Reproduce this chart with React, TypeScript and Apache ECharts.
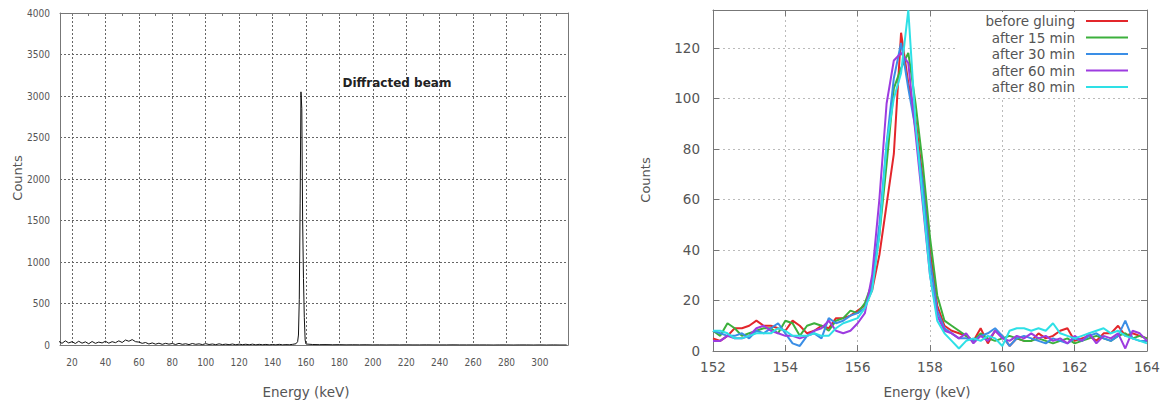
import React, { useEffect, useRef } from "react";
import * as echarts from "echarts";

// ---------- Left panel: full spectrum ----------
const spectrumEnergy = [
  12, 14, 16, 18, 20, 22, 24, 26, 28, 30, 32, 34, 36, 38, 40, 42, 44, 46, 48, 50, 52, 54, 56, 58, 60,
  62, 64, 66, 68, 70, 72, 74, 76, 78, 80, 82, 84, 86, 88, 90, 92, 94, 96, 98, 100, 102, 104, 106, 108,
  110, 112, 114, 116, 118, 120, 122, 124, 126, 128, 130, 132, 134, 136, 138, 140, 142, 144, 146, 148,
  150, 152, 154,
  155, 155.5, 156, 156.5, 157, 157.5, 158, 158.5, 159, 159.5, 160,
  164, 168, 172, 176, 180, 184, 188, 192, 196, 200, 204, 208, 212, 216, 220, 224, 228, 232, 236, 240,
  244, 248, 252, 256, 260, 264, 268, 272, 276, 280, 284, 288, 292, 296, 300, 304, 308, 312, 316,
];
const spectrumCounts = [
  45, 20, 50, 25, 40, 18, 45, 22, 38, 15, 42, 20, 35, 25, 45, 22, 40, 28, 50, 30, 60, 45, 65, 40, 35,
  20, 30, 12, 25, 10, 22, 8, 20, 10, 18, 6, 20, 8, 15, 5, 18, 8, 14, 5, 16, 6, 12, 4, 14,
  5, 10, 4, 12, 3, 10, 4, 9, 3, 10, 2, 8, 3, 7, 2, 6, 2, 8, 2, 5,
  3, 8, 15,
  40, 120, 550, 1700, 3050, 2850, 1500, 800, 330, 60, 12,
  6, 4, 5, 3, 4, 2, 3, 2, 3, 1, 2, 1, 2, 1, 2, 1, 1, 2, 1, 1,
  1, 2, 1, 1, 1, 1, 1, 0, 1, 1, 0, 1, 1, 0, 1, 0, 1, 0, 0,
];
const leftXTicks = [20, 40, 60, 80, 100, 120, 140, 160, 180, 200, 220, 240, 260, 280, 300];
const leftTopTicks = [20, 30, 40, 50, 60, 70, 80, 90, 100, 110, 120, 130, 140, 150, 160, 170, 180, 190,
  200, 210, 220, 230, 240, 250, 260, 270, 280, 290, 300, 310];

// ---------- Right panel: zoom on the diffracted peak ----------
const zoomEnergy = [
  152, 152.2, 152.4, 152.6, 152.8, 153, 153.2, 153.4, 153.6, 153.8,
  154, 154.2, 154.4, 154.6, 154.8, 155, 155.2, 155.4, 155.6, 155.8,
  156, 156.2, 156.4, 156.6, 156.8, 157, 157.2, 157.4, 157.6, 157.8,
  158, 158.2, 158.4, 158.6, 158.8, 159, 159.2, 159.4, 159.6, 159.8,
  160, 160.2, 160.4, 160.6, 160.8, 161, 161.2, 161.4, 161.6, 161.8,
  162, 162.2, 162.4, 162.6, 162.8, 163, 163.2, 163.4, 163.6, 163.8, 164,
];
const seriesNames = ["before gluing", "after 15 min", "after 30 min", "after 60 min", "after 80 min"];
const seriesColors = ["#e3262b", "#3cb03c", "#3a8ee6", "#9d3ce0", "#2ee0e6"];

const beforeGluing = [
  5, 4, 6, 9, 9, 10, 12, 10, 10, 9, 8, 12, 10, 7, 8, 10, 9, 13, 13, 14,
  16, 18, 24, 38, 58, 78, 126, 106, 92, 68, 40, 18, 10, 8, 7,
  6, 4, 9, 3, 8, 6, 2, 5, 4, 4, 7, 5, 6, 8, 9, 4, 5, 6, 4, 7, 7, 10, 6, 7, 6, 5,
];
const after15 = [
  8, 6, 11, 9, 6, 7, 8, 9, 9, 7, 12, 11, 6, 10, 11, 10, 8, 12, 13, 16,
  15, 19, 27, 46, 74, 104, 112, 118, 98, 74, 45, 22, 12, 10, 8,
  6, 4, 7, 5, 4, 5, 6, 5, 4, 4, 5, 4, 3, 4, 5, 3, 4, 5, 6, 5, 4, 6, 7, 5, 6, 5,
];
const after30 = [
  8, 7, 6, 6, 7, 5, 8, 7, 9, 11, 7, 3, 2, 6, 7, 5, 13, 11, 12, 14,
  15, 17, 26, 50, 82, 108, 122, 104, 88, 66, 36, 16, 9, 7, 5,
  5, 4, 6, 7, 9, 6, 2, 5, 6, 5, 4, 3, 5, 4, 3, 5, 4, 6, 7, 5, 4, 6, 12, 5, 4, 4,
];
const after60 = [
  4, 4, 6, 5, 5, 6, 9, 10, 8, 7, 6, 6, 5, 6, 8, 9, 12, 8, 7, 8,
  11, 15, 30, 60, 98, 115, 118, 114, 86, 58, 30, 14, 8, 7, 5,
  7, 3, 6, 4, 8, 5, 4, 6, 5, 7, 5, 6, 4, 5, 3, 6, 4, 7, 3, 6, 5, 7, 1, 8, 7, 4,
];
const after80 = [
  8, 8, 7, 5, 5, 6, 7, 7, 7, 9, 8, 6, 6, 6, 7, 6, 6, 9, 11, 12,
  13, 17, 24, 46, 82, 100, 110, 135, 90, 60, 30, 12, 7, 4, 1,
  4, 5, 4, 6, 5, 2, 8, 9, 9, 8, 9, 8, 11, 7, 6, 5, 6, 7, 8, 9, 7, 8, 6, 5, 4, 3,
];
const zoomSeries = [beforeGluing, after15, after30, after60, after80];
const rightYTicks = [0, 20, 40, 60, 80, 100, 120];

const FONT = '"DejaVu Sans", Verdana, sans-serif';
const NARROW = '"Liberation Sans Narrow", "DejaVu Sans Condensed", "Arial Narrow", sans-serif';

export default function App() {
  const ref = useRef<HTMLDivElement>(null);

  useEffect(() => {
    document.body.style.margin = "0";
    if (!ref.current) return;
    const chart = echarts.init(ref.current, undefined, { renderer: "svg" });

    const leftData = spectrumEnergy.map((e, i) => [e, spectrumCounts[i]]);

    const legendEls: any[] = [
      {
        type: "rect",
        shape: { x: 955, y: 12, width: 186, height: 86 },
        style: { fill: "#ffffff" },
        z: 1,
      },
    ];
    seriesNames.forEach((name, i) => {
      const cy = 21 + i * 16.5;
      legendEls.push({
        type: "text",
        x: 1075,
        y: cy,
        z: 5,
        style: {
          text: name,
          fontSize: 13.5,
          fontFamily: FONT,
          fill: "#555",
          align: "right",
          verticalAlign: "middle",
          textAlign: "right",
          textVerticalAlign: "middle",
        },
      });
      legendEls.push({
        type: "line",
        z: 5,
        shape: { x1: 1086, y1: cy, x2: 1128, y2: cy },
        style: { stroke: seriesColors[i], lineWidth: 2 },
      });
    });

    const titleText = (text: string, x: number, y: number, rot = 0, extra: any = {}) => ({
      type: "text",
      x,
      y,
      rotation: rot,
      z: 5,
      style: {
        text,
        fontSize: 13,
        fontFamily: FONT,
        fill: "#555",
        align: "center",
        verticalAlign: "middle",
        textAlign: "center",
        textVerticalAlign: "middle",
        ...extra,
      },
    });

    const option: any = {
      animation: false,
      backgroundColor: "#ffffff",
      grid: [
        { left: 60, top: 13, width: 508, height: 332 },
        { left: 713, top: 10, width: 434, height: 341 },
      ],
      xAxis: [
        {
          gridIndex: 0,
          type: "value",
          min: 12.8,
          max: 316.8,
          axisLine: { show: true, onZero: false, lineStyle: { color: "#777" } },
          axisTick: { show: false, customValues: leftXTicks },
          axisLabel: {
            customValues: leftXTicks,
            fontSize: 10,
            fontFamily: NARROW,
            color: "#555",
            margin: 12,
          },
          splitLine: { show: true, lineStyle: { color: "#666", type: [2, 2], width: 1 } },
        },
        {
          gridIndex: 0,
          type: "value",
          position: "top",
          min: 12.8,
          max: 316.8,
          axisLine: { show: true, onZero: false, lineStyle: { color: "#777" } },
          axisTick: { show: true, inside: true, length: 3, customValues: leftTopTicks, lineStyle: { color: "#777" } },
          axisLabel: { show: false },
          splitLine: { show: false },
        },
        {
          gridIndex: 1,
          type: "value",
          min: 152,
          max: 164,
          interval: 2,
          axisLine: { show: true, onZero: false, lineStyle: { color: "#777" } },
          axisTick: { show: true, inside: true, length: 6, lineStyle: { color: "#777" } },
          axisLabel: { fontSize: 13.5, fontFamily: FONT, color: "#555", margin: 9 },
          splitLine: { show: true, lineStyle: { color: "#bbb", type: [2, 3], width: 1 } },
        },
        {
          gridIndex: 1,
          type: "value",
          position: "top",
          min: 152,
          max: 164,
          interval: 2,
          axisLine: { show: true, onZero: false, lineStyle: { color: "#777" } },
          axisTick: { show: true, inside: true, length: 6, lineStyle: { color: "#777" } },
          axisLabel: { show: false },
          splitLine: { show: false },
        },
      ],
      yAxis: [
        {
          gridIndex: 0,
          type: "value",
          min: 0,
          max: 4000,
          interval: 500,
          axisLine: { show: true, onZero: false, lineStyle: { color: "#777" } },
          axisTick: { show: false },
          axisLabel: {
            fontSize: 10,
            fontFamily: NARROW,
            color: "#555",
            margin: 10,
            formatter: (v: number) => String(v),
          },
          splitLine: { show: true, lineStyle: { color: "#666", type: [2, 2], width: 1 } },
        },
        {
          gridIndex: 0,
          type: "value",
          position: "right",
          min: 0,
          max: 4000,
          interval: 500,
          axisLine: { show: true, onZero: false, lineStyle: { color: "#777" } },
          axisTick: { show: false },
          axisLabel: { show: false },
          splitLine: { show: false },
        },
        {
          gridIndex: 1,
          type: "value",
          min: 0,
          max: 135,
          axisLine: { show: true, onZero: false, lineStyle: { color: "#777" } },
          axisTick: { show: true, inside: true, length: 6, customValues: rightYTicks, lineStyle: { color: "#777" } },
          axisLabel: { customValues: rightYTicks, fontSize: 13.5, fontFamily: FONT, color: "#555", margin: 13 },
          splitLine: { show: true, lineStyle: { color: "#bbb", type: [2, 3], width: 1 } },
        },
        {
          gridIndex: 1,
          type: "value",
          position: "right",
          min: 0,
          max: 135,
          axisLine: { show: true, onZero: false, lineStyle: { color: "#777" } },
          axisTick: { show: true, inside: true, length: 6, customValues: rightYTicks, lineStyle: { color: "#777" } },
          axisLabel: { show: false },
          splitLine: { show: false },
        },
      ],
      series: [
        {
          type: "line",
          name: "spectrum",
          xAxisIndex: 0,
          yAxisIndex: 0,
          data: leftData,
          showSymbol: false,
          lineStyle: { color: "#111", width: 1 },
          z: 3,
        },
        ...zoomSeries.map((vals, i) => ({
          type: "line",
          name: seriesNames[i],
          xAxisIndex: 2,
          yAxisIndex: 2,
          data: zoomEnergy.map((e, k) => [e, vals[k]]),
          showSymbol: false,
          lineStyle: { color: seriesColors[i], width: 2 },
          z: 3,
        })),
      ],
      graphic: [
        titleText("Counts", 17, 178, Math.PI / 2),
        titleText("Energy (keV)", 306, 392, 0, { fontSize: 13.5 }),
        titleText("Diffracted beam", 397, 83, 0, { fontSize: 12, fontWeight: "bold", fill: "#222" }),
        titleText("Counts", 645, 180, Math.PI / 2),
        titleText("Energy (keV)", 927, 392, 0, { fontSize: 13.5 }),
        ...legendEls,
      ],
    };

    chart.setOption(option);
    return () => chart.dispose();
  }, []);

  return <div ref={ref} style={{ width: 1163, height: 402 }} />;
}
